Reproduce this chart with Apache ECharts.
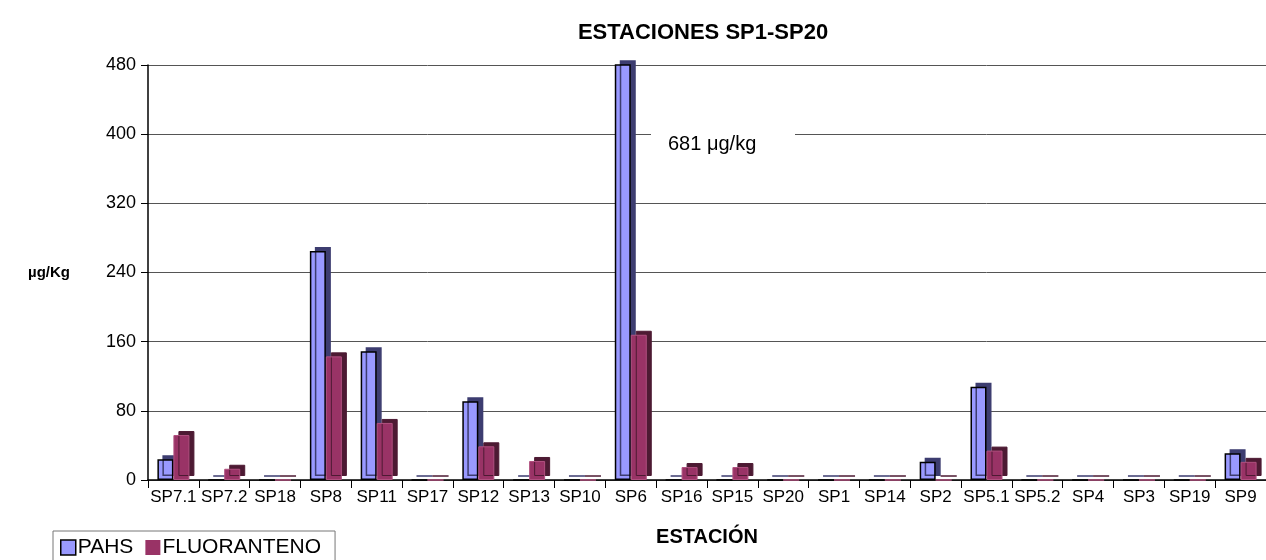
<!DOCTYPE html>
<html>
<head>
<meta charset="utf-8">
<script src="https://cdn.jsdelivr.net/npm/echarts@6/dist/echarts.min.js"></script>
<style>
html, body { margin: 0; padding: 0; background: #fff; }
#main { width: 1266px; height: 560px; }
</style>
</head>
<body>
<div id="main"></div>
<script>
// datos
var estaciones = ['SP7.1', 'SP7.2', 'SP18', 'SP8', 'SP11', 'SP17', 'SP12', 'SP13', 'SP10', 'SP6', 'SP16',
	'SP15', 'SP20', 'SP1', 'SP14', 'SP2', 'SP5.1', 'SP5.2', 'SP4', 'SP3', 'SP19', 'SP9'];
var pahs = [24, 0, 0, 265, 149, 0, 91, 0, 0, 681, 0, 0, 0, 0, 0, 21, 108, 0, 0, 0, 0, 31];
var fluoranteno = [52, 13, 0, 143, 66, 0, 39, 22, 0, 168, 15, 15, 0, 0, 0, 0, 34, 0, 0, 0, 0, 21];
var ticksY = [0, 80, 160, 240, 320, 400, 480];

var myChart = echarts.init(document.getElementById('main'));

var font = 'Liberation Sans, Arial, sans-serif';

var option = {
	animation: false,
	title: {
		text: 'ESTACIONES SP1-SP20',
		left: 698,
		top: 17,
		textAlign: 'center',
		textStyle: { fontFamily: font, fontSize: 22, fontWeight: 'bold', color: '#000' }
	},
	legend: {
		left: 53,
		top: 531,
		itemWidth: 15,
		itemHeight: 15,
		itemGap: 12,
		padding: [6, 14, 10, 7],
		borderColor: '#777',
		borderWidth: 1,
		textStyle: { fontFamily: font, fontSize: 21, color: '#000', padding: [0, 0, 0, -3] },
		data: [
			{ name: 'PAHS', icon: 'rect', itemStyle: { color: '#9999FF', borderColor: '#000', borderWidth: 1.5 } },
			{ name: 'FLUORANTENO', icon: 'rect', itemStyle: { color: '#993366', borderWidth: 0 } }
		]
	},
	grid: {
		left: 148,
		top: 65,
		width: 1127,
		height: 415
	},
	xAxis: {
		type: 'category',
		data: estaciones,
		name: 'ESTACIÓN',
		nameLocation: 'middle',
		nameGap: 47,
		nameTextStyle: { fontFamily: font, fontSize: 20, fontWeight: 'bold', color: '#000' },
		axisLine: { lineStyle: { color: '#000', width: 1.5 } },
		axisTick: { show: true, length: 8, lineStyle: { color: '#000' } },
		axisLabel: { interval: 0, fontFamily: font, fontSize: 17, color: '#000', margin: 9 }
	},
	yAxis: {
		type: 'value',
		min: 0,
		max: 480,
		interval: 80,
		name: 'µg/Kg',
		nameLocation: 'middle',
		nameRotate: 0,
		nameGap: 78,
		nameTextStyle: { fontFamily: font, fontSize: 15, fontWeight: 'bold', color: '#000' },
		axisLine: { show: true, lineStyle: { color: '#000', width: 1.5 } },
		axisTick: { show: true, length: 7, lineStyle: { color: '#000' } },
		axisLabel: {
			fontFamily: font, fontSize: 18, color: '#000', margin: 12,
			formatter: function (v) { return ticksY.indexOf(v) >= 0 ? String(v) : ''; }
		},
		splitLine: { lineStyle: { color: '#555', width: 1 } }
	},
	series: [{
		name: 'PAHS',
		type: 'bar',
		data: pahs,
		barWidth: 16,
		barGap: '0%',
		clip: true,
		itemStyle: {
			color: '#9999FF',
			borderColor: '#000',
			borderWidth: 1.5,
			shadowColor: '#3d3d70',
			shadowBlur: 0,
			shadowOffsetX: 5,
			shadowOffsetY: -4
		}
	}, {
		name: 'FLUORANTENO',
		type: 'bar',
		data: fluoranteno,
		barWidth: 16,
		clip: true,
		itemStyle: {
			color: '#993366',
			borderColor: '#b0507f',
			borderWidth: 1,
			shadowColor: '#4d1a33',
			shadowBlur: 0,
			shadowOffsetX: 5,
			shadowOffsetY: -4
		}
	}],
	graphic: [{
		type: 'rect',
		left: 651,
		top: 118,
		shape: { width: 144, height: 46 },
		style: { fill: '#fff' },
		z: 100
	}, {
		type: 'text',
		left: 668,
		top: 134,
		style: { text: '681 μg/kg', fontFamily: font, fontSize: 20, fill: '#000' },
		z: 101
	}]
};

myChart.setOption(option);
</script>
</body>
</html>
